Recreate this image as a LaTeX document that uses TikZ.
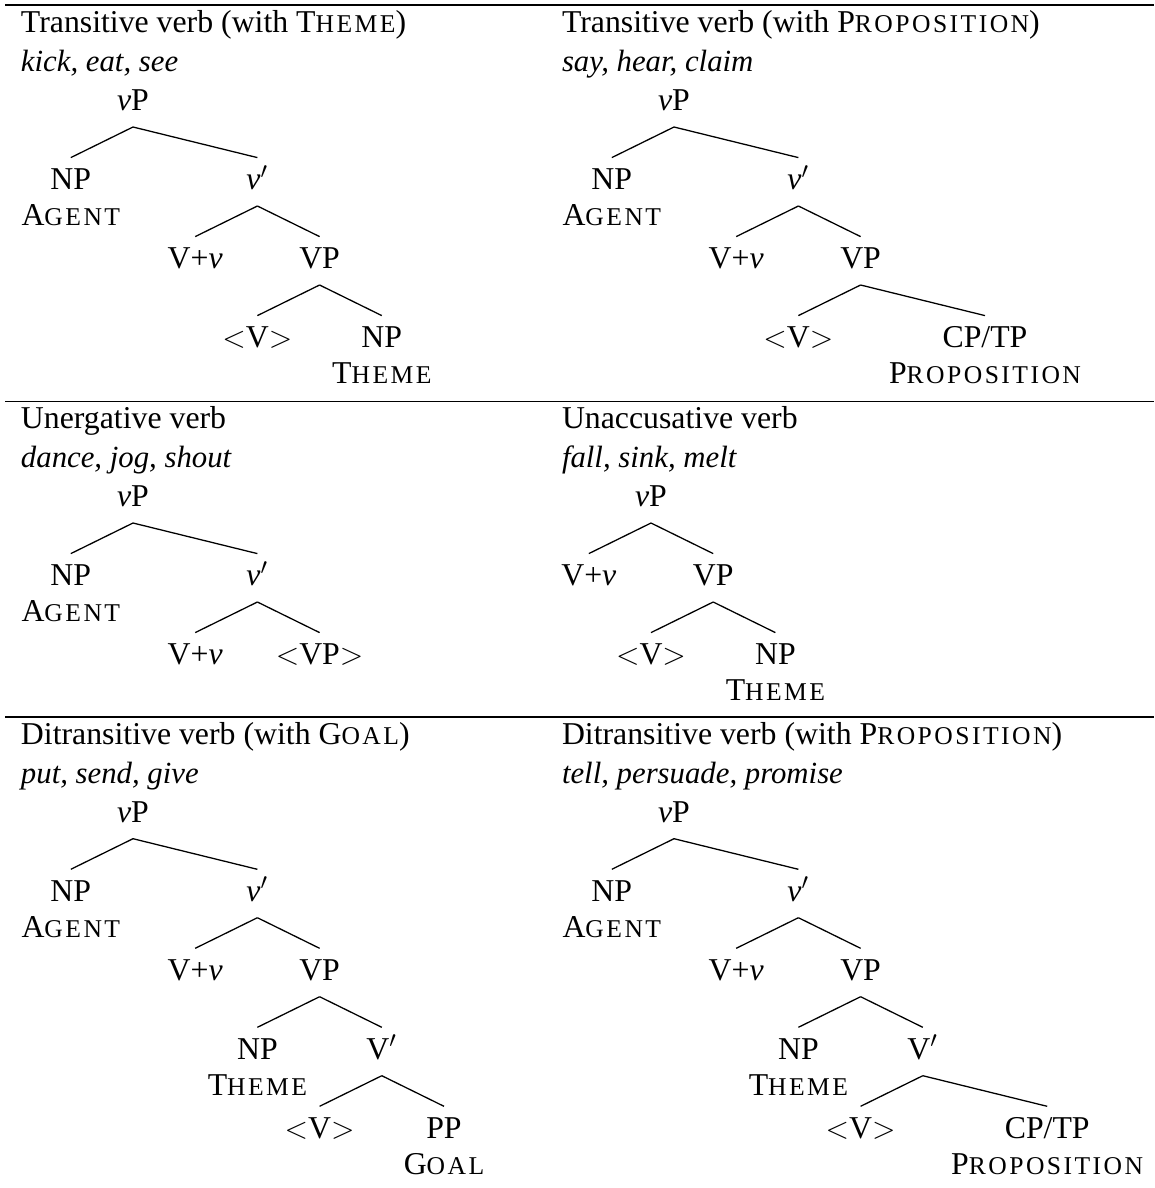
\documentclass[tikz,border=0pt]{standalone}
\usepackage{fontspec}
\setmainfont{Liberation Serif}
\newfontfamily\scf[Scale=0.805,LetterSpace=9.6]{Liberation Serif}
\usetikzlibrary{calc}
\newcommand\sct[2]{#1{\scf #2}}
\newcommand\av{\textit{v}}
\newcommand\trc{$<$V$>$}
\newcommand\trcp{$<$VP$>$}
\newcommand\tbr[2]{\draw[branch] ($(#1.base)+(0,16.7)$) -- ($(#2.base)+(0,-31.7)$);}
\begin{document}
\begin{tikzpicture}[x=0.39pt,y=-0.39pt,
  every node/.style={inner sep=0pt,outer sep=0pt,font=\fontsize{12.4}{14.8}\selectfont},
  lbl/.style={anchor=base},
  head/.style={anchor=base west},
  exm/.style={anchor=base west,font=\fontsize{12}{14.4}\selectfont\itshape},
  branch/.style={line width=0.5pt},
  rule/.style={line width=0.5pt}]
\useasboundingbox (0,0) rectangle (1154,1188);
% rules
\coordinate (r1a) at (5,5);     \coordinate (r1b) at (1154,5);
\coordinate (r2a) at (5,401.7); \coordinate (r2b) at (1154,401.7);
\coordinate (r3a) at (5,717);   \coordinate (r3b) at (1154,717);
\draw[rule] (r1a) -- (r1b);
\draw[rule] (r2a) -- (r2b);
\draw[rule] (r3a) -- (r3b);
% ---------- row 1 left
\node[head] (t1) at (21,32.3) {Transitive verb (with \sct{T}{HEME})};
\node[exm] (x1) at (21,71.8) {kick, eat, see};
\node[lbl] (a0) at (133,110.3) {\av P};
\node[lbl] (a1) at (70.8,189.3) {NP};
\node[lbl] (a1l) at (70.8,225.8) {\sct{A}{GENT}};
\node[lbl] (a2) at (257.4,189.3) {\av$'$};
\node[lbl] (a3) at (195.2,268.3) {V+\av};
\node[lbl] (a4) at (319.6,268.3) {VP};
\node[lbl] (a5) at (257.4,347.3) {\trc};
\node[lbl] (a6) at (381.8,347.3) {NP};
\node[lbl] (a6l) at (381.8,383.8) {\sct{T}{HEME}};
\tbr{a0}{a1}\tbr{a0}{a2}\tbr{a2}{a3}\tbr{a2}{a4}\tbr{a4}{a5}\tbr{a4}{a6}
% ---------- row 1 right
\node[head] (t2) at (562,32.3) {Transitive verb (with \sct{P}{ROPOSITION})};
\node[exm] (x2) at (562,71.8) {say, hear, claim};
\node[lbl] (b0) at (674,110.3) {\av P};
\node[lbl] (b1) at (611.8,189.3) {NP};
\node[lbl] (b1l) at (611.8,225.8) {\sct{A}{GENT}};
\node[lbl] (b2) at (798.4,189.3) {\av$'$};
\node[lbl] (b3) at (736.2,268.3) {V+\av};
\node[lbl] (b4) at (860.6,268.3) {VP};
\node[lbl] (b5) at (798.4,347.3) {\trc};
\node[lbl] (b6) at (985,347.3) {CP/TP};
\node[lbl] (b6l) at (985,383.8) {\sct{P}{ROPOSITION}};
\tbr{b0}{b1}\tbr{b0}{b2}\tbr{b2}{b3}\tbr{b2}{b4}\tbr{b4}{b5}\tbr{b4}{b6}
% ---------- row 2 left
\node[head] (t3) at (21,428.3) {Unergative verb};
\node[exm] (x3) at (21,467.8) {dance, jog, shout};
\node[lbl] (c0) at (133,506.3) {\av P};
\node[lbl] (c1) at (70.8,585.3) {NP};
\node[lbl] (c1l) at (70.8,621.8) {\sct{A}{GENT}};
\node[lbl] (c2) at (257.4,585.3) {\av$'$};
\node[lbl] (c3) at (195.2,664.3) {V+\av};
\node[lbl] (c4) at (319.6,664.3) {\trcp};
\tbr{c0}{c1}\tbr{c0}{c2}\tbr{c2}{c3}\tbr{c2}{c4}
% ---------- row 2 right
\node[head] (t4) at (562,428.3) {Unaccusative verb};
\node[exm] (x4) at (562,467.8) {fall, sink, melt};
\node[lbl] (d0) at (651,506.3) {\av P};
\node[lbl] (d1) at (588.8,585.3) {V+\av};
\node[lbl] (d2) at (713.2,585.3) {VP};
\node[lbl] (d3) at (651,664.3) {\trc};
\node[lbl] (d4) at (775.4,664.3) {NP};
\node[lbl] (d4l) at (775.4,700.8) {\sct{T}{HEME}};
\tbr{d0}{d1}\tbr{d0}{d2}\tbr{d2}{d3}\tbr{d2}{d4}
% ---------- row 3 left
\node[head] (t5) at (21,744) {Ditransitive verb (with \sct{G}{OAL})};
\node[exm] (x5) at (21,783.5) {put, send, give};
\node[lbl] (e0) at (133,822) {\av P};
\node[lbl] (e1) at (70.8,901) {NP};
\node[lbl] (e1l) at (70.8,937.5) {\sct{A}{GENT}};
\node[lbl] (e2) at (257.4,901) {\av$'$};
\node[lbl] (e3) at (195.2,980) {V+\av};
\node[lbl] (e4) at (319.6,980) {VP};
\node[lbl] (e5) at (257.4,1059) {NP};
\node[lbl] (e5l) at (257.4,1095.5) {\sct{T}{HEME}};
\node[lbl] (e6) at (381.8,1059) {V$'$};
\node[lbl] (e7) at (319.6,1138) {\trc};
\node[lbl] (e8) at (444,1138) {PP};
\node[lbl] (e8l) at (444,1174.5) {\sct{G}{OAL}};
\tbr{e0}{e1}\tbr{e0}{e2}\tbr{e2}{e3}\tbr{e2}{e4}\tbr{e4}{e5}\tbr{e4}{e6}\tbr{e6}{e7}\tbr{e6}{e8}
% ---------- row 3 right
\node[head] (t6) at (562,744) {Ditransitive verb (with \sct{P}{ROPOSITION})};
\node[exm] (x6) at (562,783.5) {tell, persuade, promise};
\node[lbl] (f0) at (674,822) {\av P};
\node[lbl] (f1) at (611.8,901) {NP};
\node[lbl] (f1l) at (611.8,937.5) {\sct{A}{GENT}};
\node[lbl] (f2) at (798.4,901) {\av$'$};
\node[lbl] (f3) at (736.2,980) {V+\av};
\node[lbl] (f4) at (860.6,980) {VP};
\node[lbl] (f5) at (798.4,1059) {NP};
\node[lbl] (f5l) at (798.4,1095.5) {\sct{T}{HEME}};
\node[lbl] (f6) at (922.8,1059) {V$'$};
\node[lbl] (f7) at (860.6,1138) {\trc};
\node[lbl] (f8) at (1047.2,1138) {CP/TP};
\node[lbl] (f8l) at (1047.2,1174.5) {\sct{P}{ROPOSITION}};
\tbr{f0}{f1}\tbr{f0}{f2}\tbr{f2}{f3}\tbr{f2}{f4}\tbr{f4}{f5}\tbr{f4}{f6}\tbr{f6}{f7}\tbr{f6}{f8}
\end{tikzpicture}
\end{document}
